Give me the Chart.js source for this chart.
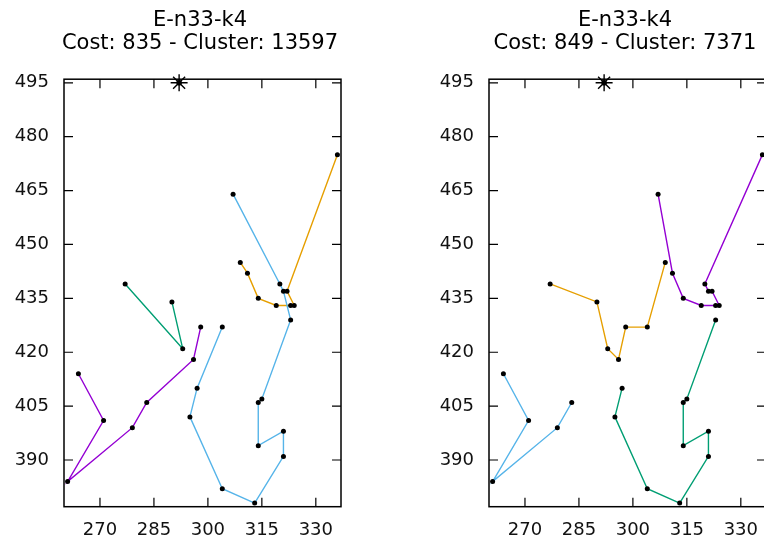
<!DOCTYPE html>
<html>
<head>
<meta charset="utf-8">
<script src="https://cdn.jsdelivr.net/npm/chart.js@4.4.1/dist/chart.umd.min.js"></script>
<style>
    html, body { margin: 0; padding: 0; background: #fff; overflow: hidden; width: 764px; height: 546px; }
    canvas { position: absolute; top: 0; }
    #left-chart { left: 0; }
    #right-chart { left: 425px; }
</style>
</head>
<body>
<canvas id="left-chart" width="400" height="546"></canvas>
<canvas id="right-chart" width="400" height="546"></canvas>
<script>
'use strict';

const instanceName = 'E-n33-k4';
const depot = [292, 495];

const xTicks = [270, 285, 300, 315, 330];
const yTicks = [390, 405, 420, 435, 450, 465, 480, 495];
const xRange = [260, 337];
const yRange = [377, 496];

const colors = {
    purple: '#9400d3',
    green: '#009e73',
    blue: '#56b4e9',
    orange: '#e69f00',
};

// left solution
const leftCost = 835;
const leftCluster = 13597;
const leftPurple = [[298, 427], [296, 418], [283, 406], [279, 399], [261, 384], [271, 401], [264, 414]];
const leftGreen = [[277, 439], [293, 421], [290, 434]];
const leftBlue = [[307, 464], [320, 439], [321, 437], [323, 429], [315, 407], [314, 406], [314, 394],
    [321, 398], [321, 391], [313, 378], [304, 382], [295, 402], [297, 410], [304, 427]];
const leftOrange = [[336, 475], [322, 437], [324, 433], [323, 433], [319, 433], [314, 435], [311, 442], [309, 445]];

// right solution
const rightCost = 849;
const rightCluster = 7371;
const rightPurple = [[307, 464], [311, 442], [314, 435], [319, 433], [323, 433], [324, 433], [322, 437],
    [321, 437], [320, 439], [336, 475]];
const rightGreen = [[297, 410], [295, 402], [304, 382], [313, 378], [321, 391], [321, 398], [314, 394],
    [314, 406], [315, 407], [323, 429]];
const rightBlue = [[264, 414], [271, 401], [261, 384], [279, 399], [283, 406]];
const rightOrange = [[277, 439], [290, 434], [293, 421], [296, 418], [298, 427], [304, 427], [309, 445]];

const fontFamily = '"DejaVu Sans", sans-serif';

// box round the plot with inward ticks on all four sides
const framePlugin = {
    id: 'frame',
    beforeDatasetsDraw(chart) {
        let ctx = chart.ctx;
        let a = chart.chartArea;
        let sx = chart.scales.x;
        let sy = chart.scales.y;
        ctx.save();
        ctx.strokeStyle = '#000';
        ctx.lineWidth = 1.2;
        ctx.beginPath();
        xTicks.forEach(function (v) {
            let px = sx.getPixelForValue(v);
            ctx.moveTo(px, a.bottom); ctx.lineTo(px, a.bottom - 9);
            ctx.moveTo(px, a.top); ctx.lineTo(px, a.top + 9);
        });
        yTicks.forEach(function (v) {
            let py = sy.getPixelForValue(v);
            ctx.moveTo(a.left, py); ctx.lineTo(a.left + 9, py);
            ctx.moveTo(a.right, py); ctx.lineTo(a.right - 9, py);
        });
        ctx.stroke();
        ctx.lineWidth = 1.5;
        ctx.strokeRect(a.left, a.top, a.right - a.left, a.bottom - a.top);
        ctx.restore();
    }
};

function toPoints(arr) {
    return arr.map(p => ({ x: p[0], y: p[1] }));
}

function routeDataset(points, color) {
    return {
        data: toPoints(points),
        showLine: true,
        borderColor: color,
        borderWidth: 1.4,
        tension: 0,
        fill: false,
        pointRadius: 2.5,
        pointBackgroundColor: '#000',
        pointBorderColor: '#000',
        pointBorderWidth: 0,
    };
}

function makeChart(id, cost, cluster, routes) {
    let datasets = routes.map(r => routeDataset(r[0], r[1]));
    datasets.push({
        data: toPoints([depot]),
        pointStyle: 'star',
        pointRadius: 8.5,
        borderColor: '#000',
        borderWidth: 1.4,
        showLine: false,
        clip: false,
    }, {
        data: toPoints([depot]),
        pointRadius: 2.8,
        pointBackgroundColor: '#000',
        pointBorderWidth: 0,
        showLine: false,
        clip: false,
    });

    let tickFont = { family: fontFamily, size: 18 };

    return new Chart(document.getElementById(id).getContext('2d'), {
        type: 'scatter',
        data: { datasets: datasets },
        options: {
            responsive: false,
            animation: false,
            layout: { padding: 0 },
            plugins: {
                legend: { display: false },
                tooltip: { enabled: false },
                title: {
                    display: true,
                    text: [instanceName, 'Cost: ' + cost + ' - Cluster: ' + cluster],
                    color: '#000',
                    font: { family: fontFamily, size: 21, weight: 'normal', lineHeight: 1.1 },
                    padding: { top: 9, bottom: 24 },
                },
            },
            scales: {
                x: {
                    type: 'linear',
                    min: xRange[0],
                    max: xRange[1],
                    afterBuildTicks: s => { s.ticks = xTicks.map(v => ({ value: v })); },
                    afterFit: s => { s.height = 39.3; },
                    grid: { display: false, drawTicks: false },
                    border: { display: false },
                    ticks: { font: tickFont, color: '#111', padding: 13, maxRotation: 0, autoSkip: false },
                },
                y: {
                    type: 'linear',
                    min: yRange[0],
                    max: yRange[1],
                    afterBuildTicks: s => { s.ticks = yTicks.map(v => ({ value: v })); },
                    afterFit: s => { s.width = 64; },
                    grid: { display: false, drawTicks: false },
                    border: { display: false },
                    ticks: { font: tickFont, color: '#111', padding: 15, autoSkip: false },
                },
                // empty axis on the right, only to leave blank space beside the plot
                yRight: {
                    type: 'linear',
                    position: 'right',
                    afterFit: s => { s.width = 59; },
                    grid: { display: false, drawTicks: false },
                    border: { display: false },
                    ticks: { display: false },
                },
            },
        },
        plugins: [framePlugin],
    });
}

makeChart('left-chart', leftCost, leftCluster, [
    [leftGreen, colors.green],
    [leftPurple, colors.purple],
    [leftBlue, colors.blue],
    [leftOrange, colors.orange],
]);

makeChart('right-chart', rightCost, rightCluster, [
    [rightOrange, colors.orange],
    [rightBlue, colors.blue],
    [rightGreen, colors.green],
    [rightPurple, colors.purple],
]);
</script>
</body>
</html>
